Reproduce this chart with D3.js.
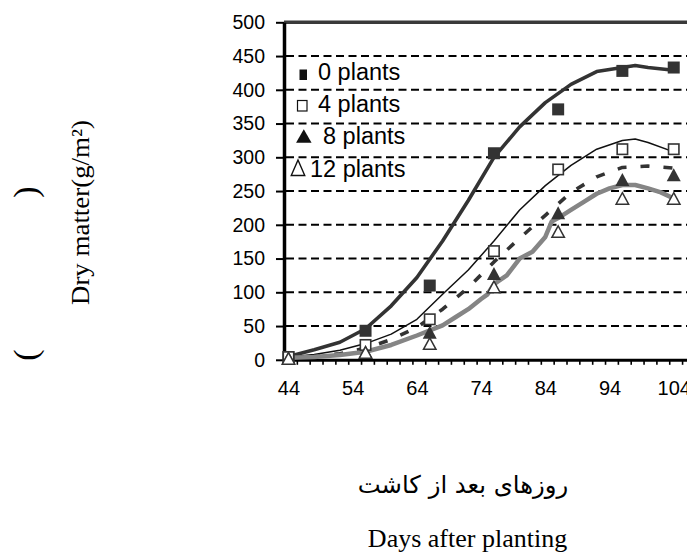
<!DOCTYPE html>
<html>
<head>
<meta charset="utf-8">
<script src="https://cdn.jsdelivr.net/npm/d3@7"></script>
<style>
  body { margin: 0; background: #fff; }
  svg { display: block; }
</style>
</head>
<body>
<svg id="chart" width="687" height="557"></svg>
<script>
// Observed dry matter (g/m²) on sampling days
const sampleDays = [44, 56, 66, 76, 86, 96, 104];
const obs0  = [4, 43, 110, 306, 371, 428, 433];
const obs4  = [4, 22, 60, 161, 282, 312, 312];
const obs8  = [3, 12, 41, 128, 218, 267, 274];
const obs12 = [2, 11, 24, 108, 190, 239, 239];

// Simulated dry matter curves
const simDays0  = [44, 48, 52, 56, 60, 64, 68, 72, 76, 80, 84, 88, 92, 96, 98, 100, 104];
const sim0      = [5, 15, 26, 46, 80, 122, 176, 236, 300, 345, 381, 408, 427, 433, 436, 433, 429];
const simDays4  = [44, 48, 52, 56, 60, 64, 68, 72, 76, 80, 84, 88, 92, 96, 98, 100, 104];
const sim4      = [4, 8, 14, 24, 38, 60, 97, 133, 176, 222, 258, 288, 312, 325, 327, 322, 308];
const simDays8  = [44, 48, 52, 56, 60, 64, 68, 72, 76, 80, 84, 88, 92, 96, 100, 104];
const sim8      = [3, 5, 9, 17, 30, 48, 75, 107, 145, 180, 214, 248, 271, 285, 287, 284];
const simDays12 = [44, 48, 52, 56, 60, 64, 68, 70, 72, 74, 75, 76, 78, 80, 82, 84, 85, 86, 88, 90, 92, 94, 96, 98, 100, 102, 104];
const sim12     = [3, 4, 7, 12, 22, 36, 51, 63, 75, 90, 97, 112, 125, 150, 160, 182, 205, 210, 222, 234, 246, 254, 259, 259, 254, 248, 239];

// Axis ticks and labels
const yTicks = [0, 50, 100, 150, 200, 250, 300, 350, 400, 450, 500];
const gridValues = [50, 100, 150, 200, 250, 300, 350, 400, 450];
const xLabels = [44, 54, 64, 74, 84, 94, 104];
const legendLabels = ["0 plants", "4 plants", "8 plants", "12 plants"];

const svg = d3.select("#chart");
const x = d3.scaleLinear().domain([43.3, 106.3]).range([284, 688.5]);
const y = d3.scaleLinear().domain([0, 500]).range([359.8, 22.3]);
const sans = "'Liberation Sans', Arial, sans-serif";
const serif = "'Liberation Serif', 'Times New Roman', serif";

// Dashed horizontal gridlines
svg.append("g")
  .selectAll("line")
  .data(gridValues)
  .join("line")
  .attr("x1", x.range()[0] + 2)
  .attr("x2", 687)
  .attr("y1", d => y(d))
  .attr("y2", d => y(d))
  .attr("stroke", "#000")
  .attr("stroke-width", 2)
  .attr("stroke-dasharray", "8,4.5");

// Top frame of the plot area
svg.append("line")
  .attr("x1", x.range()[0])
  .attr("x2", 687)
  .attr("y1", y(500))
  .attr("y2", y(500))
  .attr("stroke", "#3a3a3a")
  .attr("stroke-width", 3.5);

// Y axis
const yAxis = svg.append("g")
  .attr("transform", `translate(${x.range()[0]},0)`)
  .call(d3.axisLeft(y).tickValues(yTicks).tickSize(8).tickSizeOuter(0).tickPadding(11).tickFormat(d3.format("d")));
yAxis.attr("font-family", sans).attr("font-size", 19.5);
yAxis.select(".domain").attr("stroke", "#000").attr("stroke-width", 3.5);
yAxis.selectAll(".tick line").attr("stroke", "#000").attr("stroke-width", 2);
yAxis.selectAll(".tick text").attr("fill", "#000");

// X axis: minor ticks every two days, labels every ten
const xMinor = d3.range(0, 32).map(i => 43.3 + 2 * i);
const xAxis = svg.append("g")
  .attr("transform", `translate(0,${y(0)})`)
  .call(d3.axisBottom(x).tickValues(xMinor).tickSize(5).tickSizeOuter(0).tickFormat(""));
xAxis.select(".domain").attr("stroke", "#000").attr("stroke-width", 3);
xAxis.selectAll(".tick line").attr("stroke", "#000").attr("stroke-width", 1.6);

const xLabelAxis = svg.append("g")
  .attr("transform", `translate(0,${y(0)})`)
  .call(d3.axisBottom(x).tickValues(xLabels).tickSize(0).tickPadding(21));
xLabelAxis.select(".domain").remove();
xLabelAxis.attr("font-family", sans).attr("font-size", 20);
xLabelAxis.selectAll(".tick text").attr("fill", "#000");

// Simulated curves
const line = d3.line().x(d => x(d[0])).y(d => y(d[1]));
const curves = [
  { days: simDays0,  vals: sim0,  stroke: "#333",    width: 3.6, dash: null },
  { days: simDays4,  vals: sim4,  stroke: "#111",    width: 1.5, dash: null },
  { days: simDays8,  vals: sim8,  stroke: "#333",    width: 3.6, dash: "9,14" },
  { days: simDays12, vals: sim12, stroke: "#858585", width: 4.5, dash: null }
];
svg.append("g")
  .selectAll("path")
  .data(curves)
  .join("path")
  .attr("d", c => line(d3.zip(c.days, c.vals)))
  .attr("fill", "none")
  .attr("stroke", c => c.stroke)
  .attr("stroke-width", c => c.width)
  .attr("stroke-dasharray", c => c.dash)
  .attr("stroke-linejoin", "round");

// Observed markers
const triPath = (cx, cy, w, h) =>
  `M${cx},${cy - h / 2}L${cx + w / 2},${cy + h / 2}L${cx - w / 2},${cy + h / 2}Z`;

const markers = svg.append("g");
markers.selectAll("rect.f0")
  .data(d3.zip(sampleDays, obs0))
  .join("rect")
  .attr("class", "f0")
  .attr("x", d => x(d[0]) - 6).attr("y", d => y(d[1]) - 6)
  .attr("width", 12).attr("height", 12)
  .attr("fill", "#333");
markers.selectAll("rect.f4")
  .data(d3.zip(sampleDays, obs4))
  .join("rect")
  .attr("class", "f4")
  .attr("x", d => x(d[0]) - 5.2).attr("y", d => y(d[1]) - 5.2)
  .attr("width", 10.4).attr("height", 10.4)
  .attr("fill", "#fff").attr("stroke", "#333").attr("stroke-width", 1.6);
markers.selectAll("path.f8")
  .data(d3.zip(sampleDays, obs8))
  .join("path")
  .attr("class", "f8")
  .attr("d", d => triPath(x(d[0]), y(d[1]), 14, 13))
  .attr("fill", "#333");
markers.selectAll("path.f12")
  .data(d3.zip(sampleDays, obs12))
  .join("path")
  .attr("class", "f12")
  .attr("d", d => triPath(x(d[0]), y(d[1]), 12.5, 11.5))
  .attr("fill", "#fff").attr("stroke", "#333").attr("stroke-width", 1.5);

// Legend
const legend = svg.append("g");
legend.append("rect").attr("x", 299.5).attr("y", 69.5).attr("width", 7.5).attr("height", 10.5).attr("fill", "#111");
legend.append("rect").attr("x", 297.5).attr("y", 100.5).attr("width", 9.5).attr("height", 10.5)
  .attr("fill", "#fff").attr("stroke", "#111").attr("stroke-width", 1.2);
legend.append("path").attr("d", triPath(303.8, 136, 15.5, 13.5)).attr("fill", "#111");
legend.append("path").attr("d", triPath(298, 167.8, 13.5, 15.5))
  .attr("fill", "none").attr("stroke", "#111").attr("stroke-width", 1.4);

const legendPos = [[318, 80], [318, 111.7], [323, 144], [310, 176.7]];
legend.selectAll("text")
  .data(legendLabels)
  .join("text")
  .attr("x", (d, i) => legendPos[i][0])
  .attr("y", (d, i) => legendPos[i][1])
  .attr("font-family", sans)
  .attr("font-size", 23.5)
  .attr("fill", "#000")
  .text(d => d);

// Axis titles
svg.append("text")
  .attr("transform", "translate(89,212.5) rotate(-90)")
  .attr("text-anchor", "middle")
  .attr("font-family", serif)
  .attr("font-size", 25)
  .attr("textLength", 185)
  .attr("lengthAdjust", "spacingAndGlyphs")
  .attr("fill", "#000")
  .text("Dry matter(g/m²)");

svg.append("text")
  .attr("transform", "translate(37,355) rotate(-90)")
  .attr("text-anchor", "middle")
  .attr("font-family", serif)
  .attr("font-size", 34)
  .attr("fill", "#000")
  .text("(");
svg.append("text")
  .attr("transform", "translate(37,192) rotate(-90)")
  .attr("text-anchor", "middle")
  .attr("font-family", serif)
  .attr("font-size", 34)
  .attr("fill", "#000")
  .text(")");

svg.append("text")
  .attr("x", 463)
  .attr("y", 493)
  .attr("text-anchor", "middle")
  .attr("font-family", "'DejaVu Sans', 'Noto Sans', sans-serif")
  .attr("font-size", 24.3)
  .attr("direction", "rtl")
  .attr("fill", "#000")
  .text("روزهای بعد از کاشت");

svg.append("text")
  .attr("x", 467.5)
  .attr("y", 546.5)
  .attr("text-anchor", "middle")
  .attr("font-family", serif)
  .attr("font-size", 26)
  .attr("fill", "#000")
  .text("Days after planting");
</script>
</body>
</html>
